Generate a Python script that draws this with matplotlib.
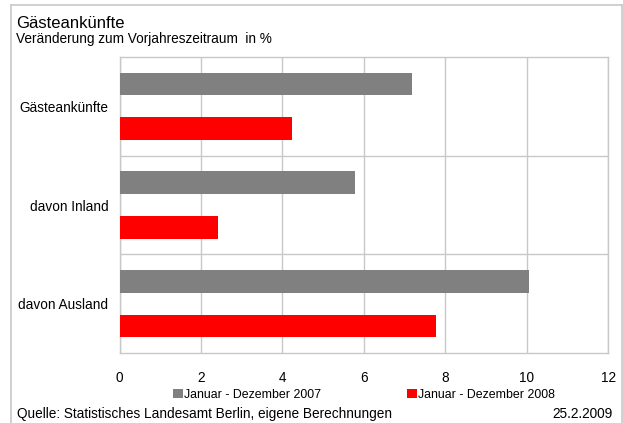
import matplotlib
matplotlib.use('Agg')
import matplotlib.pyplot as plt
from matplotlib.lines import Line2D
import numpy as np

plt.rcParams['font.family'] = ['Liberation Sans', 'DejaVu Sans']

categories = ["Gästeankünfte", "davon Inland", "davon Ausland"]
series_2007 = [7.18, 5.79, 10.06]
series_2008 = [4.24, 2.42, 7.78]
label_2007 = "Januar - Dezember 2007"
label_2008 = "Januar - Dezember 2008"
x_ticks = [0, 2, 4, 6, 8, 10, 12]

W, H = 623, 423
fig = plt.figure(figsize=(W / 100, H / 100), dpi=100)

# plot area in pixel coordinates
left, right, top, bottom = 119.5, 608, 57, 353
ax = fig.add_axes([left / W, 1 - bottom / H, (right - left) / W, (bottom - top) / H])

pos = np.arange(len(categories))
off = 0.225
h = 0.23
ax.barh(pos - off, series_2007, height=h, color="#808080", label=label_2007, zorder=3)
ax.barh(pos + off, series_2008, height=h, color="#ff0000", label=label_2008, zorder=3)

ax.set_xlim(0, 12)
ax.set_ylim(2.5, -0.5)
ax.set_xticks(x_ticks)
ax.set_xticklabels([str(t) for t in x_ticks], fontsize=9.8)
ax.set_yticks(pos)
ax.set_yticklabels(categories, fontsize=9.8)
ax.tick_params(length=0)
ax.tick_params(axis='x', pad=13)
ax.tick_params(axis='y', pad=8)

grid_col = "#c8c8c8"
ax.grid(axis='x', color=grid_col, linewidth=1, zorder=0)
for b in [0.5, 1.5]:
    ax.axhline(b, color=grid_col, linewidth=1, zorder=0)
for s in ax.spines.values():
    s.set_color(grid_col)
    s.set_linewidth(1)

# outer frame
fig.add_artist(Line2D([11 / W, 11 / W], [0, 1 - 5 / H], color="#c8c8c8", linewidth=1.2))
fig.add_artist(Line2D([11 / W, 622 / W], [1 - 5 / H, 1 - 5 / H], color="#c8c8c8", linewidth=1.2))
fig.add_artist(Line2D([622 / W, 622 / W], [0, 1 - 5 / H], color="#c8c8c8", linewidth=1.2))

fig.text(16 / W, 1 - 28 / H, "Gästeankünfte", fontsize=12, va='baseline')
fig.text(16 / W, 1 - 43 / H, "Veränderung zum Vorjahreszeitraum  in %", fontsize=9.8, va='baseline')

fig.legend(loc='center', bbox_to_anchor=(364 / W, 1 - 395 / H), ncol=2, frameon=False,
           fontsize=8.9, handlelength=0.8, handleheight=0.8, handletextpad=0.15,
           columnspacing=6.9, borderpad=0, borderaxespad=0)

fig.text(17 / W, 1 - 418 / H, "Quelle: Statistisches Landesamt Berlin, eigene Berechnungen",
         fontsize=9.8, va='baseline')
fig.text(613 / W, 1 - 418 / H, "25.2.2009", fontsize=9.8, va='baseline', ha='right')

fig.savefig("out.png", dpi=100)
